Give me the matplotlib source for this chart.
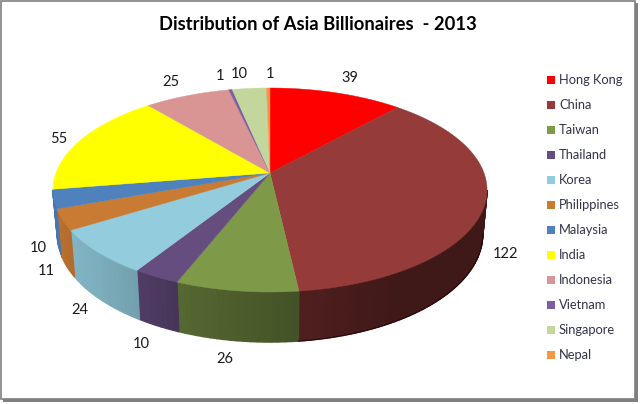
import numpy as np
import matplotlib
matplotlib.use("Agg")
import matplotlib.pyplot as plt
from matplotlib.patches import Polygon, Rectangle
from matplotlib.colors import to_rgb

countries = ['Hong Kong', 'China', 'Taiwan', 'Thailand', 'Korea', 'Philippines',
             'Malaysia', 'India', 'Indonesia', 'Vietnam', 'Singapore', 'Nepal']
billionaires = [39, 122, 26, 10, 24, 11, 10, 55, 25, 1, 10, 1]
colors = ['#ff0000', '#953b39', '#7e9a48', '#664d80', '#92ccdd', '#c97a33',
          '#4f81bd', '#ffff00', '#d99594', '#7a5ea6', '#c3d69b', '#f79646']

# hand placed data labels, same order as the values
label_pos = [(350, 78), (506, 254), (225, 359), (141, 344), (80, 310), (46, 271),
             (38, 248), (59, 139), (171, 82), (220, 76), (239, 74), (270, 74)]

plt.rcParams['font.family'] = ['Lato', 'DejaVu Sans']

# the pie is tilted with some perspective, so the apex sits above the ellipse centre
APEX_X, APEX_Y = 270, 173
WIDE, TALL, PERSP = 214, 99.17, 1 / 6


def top_edge(theta):
    u, v = np.sin(theta), np.cos(theta)
    d = 1 + PERSP * v
    return APEX_X + WIDE * u / d, APEX_Y - TALL * v / d


def bottom_edge(theta):
    x, y = top_edge(theta)
    rel = APEX_Y - y
    return APEX_X + (x - APEX_X) * 0.98, APEX_Y - (rel * 1.055 - 43.5)


def wall_shade(theta):
    deg = np.degrees(theta)
    return np.interp(deg, [90, 150, 173, 200, 210, 225, 250, 270], [0.42, 0.42, 0.53, 0.67, 0.77, 0.85, 0.92, 0.9])


fig = plt.figure(figsize=(6.4, 4.04), dpi=100)
ax = fig.add_axes([0, 0, 1, 1])
ax.set_xlim(0, 640)
ax.set_ylim(404, 0)
ax.axis('off')

# picture frame with its drop shadow
ax.add_patch(Rectangle((3, 3), 635, 399, fc='#7f7f7f', ec='none', zorder=0))
ax.add_patch(Rectangle((0.5, 0.5), 634.5, 398, fc='white', ec='#7f7f7f', lw=1.2, zorder=1))

edges = np.cumsum([0] + billionaires) / sum(billionaires) * 2 * np.pi

# only the part of the rim between the two side extremes shows a wall
wall_start = np.arccos(-PERSP)
wall_end = 2 * np.pi - wall_start

# side wall first, strip by strip so it picks up a gradient
for i in range(len(billionaires)):
    lo, hi = max(edges[i], wall_start), min(edges[i + 1], wall_end)
    if hi <= lo:
        continue
    n = max(int((hi - lo) / np.radians(1.5)), 1)
    steps = np.linspace(lo, hi, n + 1)
    for a, b in zip(steps[:-1], steps[1:]):
        tt = np.array([a, b])
        xt, yt = top_edge(tt)
        xb, yb = bottom_edge(tt[::-1])
        shade = np.array(to_rgb(colors[i])) * wall_shade((a + b) / 2)
        ax.add_patch(Polygon(np.column_stack([np.r_[xt, xb], np.r_[yt, yb]]),
                             fc=shade, ec=shade, lw=1.0, zorder=2))

# China's wall has a dark rim along its lower edge
tt = np.linspace(wall_start, edges[2], 80)
ax.plot(*bottom_edge(tt), color='#2e0808', lw=0.8, zorder=2.5)

# top face
for i in range(len(billionaires)):
    tt = np.linspace(edges[i], edges[i + 1], 80)
    x, y = top_edge(tt)
    pts = np.column_stack([np.r_[APEX_X, x], np.r_[APEX_Y, y]])
    ax.add_patch(Polygon(pts, fc=colors[i], ec=colors[i], lw=0.3, zorder=3))

for val, (x, y) in zip(billionaires, label_pos):
    ax.text(x, y, str(val), fontsize=10.5, color='#1a1a1a', ha='center', va='center', zorder=4)

ax.text(318, 24, 'Distribution of Asia Billionaires  - 2013', fontsize=13.2, fontweight='bold',
        color='black', ha='center', va='center', zorder=4)

# legend
for i, name in enumerate(countries):
    y = 80 + 25 * i
    ax.add_patch(Rectangle((547, y - 4), 8, 8, fc=colors[i], ec='none', zorder=4))
    ax.text(559, y, name, fontsize=9.3, color='#33334a', ha='left', va='center', zorder=4)

fig.savefig('out.png', dpi=100)
